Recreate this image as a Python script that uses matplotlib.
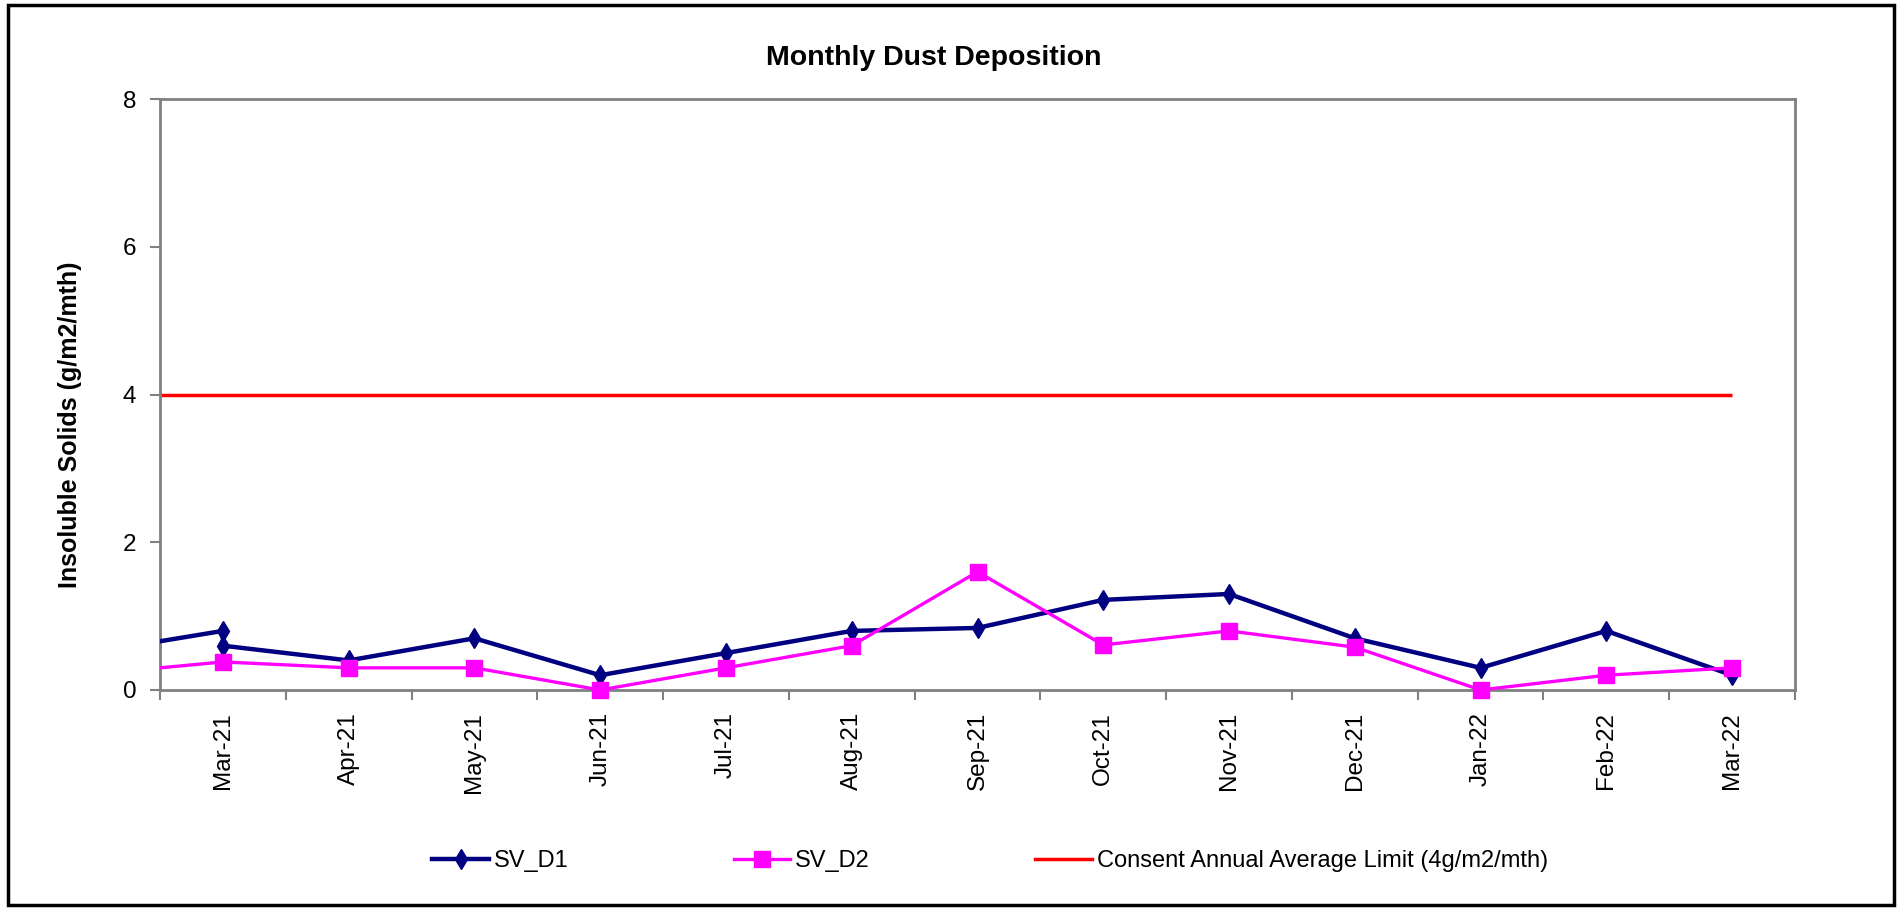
import matplotlib
matplotlib.use("Agg")
import matplotlib.pyplot as plt
from matplotlib.lines import Line2D
from matplotlib.patches import Rectangle

plt.rcParams['font.family'] = ['Liberation Sans', 'DejaVu Sans']

# ---- data ----
months = ["Mar-21", "Apr-21", "May-21", "Jun-21", "Jul-21", "Aug-21", "Sep-21",
          "Oct-21", "Nov-21", "Dec-21", "Jan-22", "Feb-22", "Mar-22"]
# sample index (month position; -1 = previous month, clipped at the axis edge)
sv_d1_idx = [-1, 0, 0, 1, 2, 3, 4, 5, 6, 7, 8, 9, 10, 11, 12]
sv_d1_val = [0.52, 0.80, 0.60, 0.40, 0.70, 0.20, 0.50, 0.80, 0.84, 1.22, 1.30, 0.70, 0.30, 0.80, 0.20]
sv_d2_idx = [-1, 0, 1, 2, 3, 4, 5, 6, 7, 8, 9, 10, 11, 12]
sv_d2_val = [0.22, 0.38, 0.30, 0.30, 0.00, 0.30, 0.60, 1.60, 0.61, 0.80, 0.58, 0.00, 0.20, 0.30]
limit_value = 4.0
yticks = [0, 2, 4, 6, 8]

fig = plt.figure(figsize=(19.02, 9.08), dpi=100)
ax = fig.add_axes([160/1902, 1-690/908, (1795-160)/1902, (690-99)/908])

navy = "#000080"
mag = "#FF00FF"
red = "#FF0000"
grey = "#808080"

# lines (clipped to axes)
ax.plot(sv_d1_idx, sv_d1_val, color=navy, lw=3.2, zorder=3)
ax.plot(sv_d2_idx, sv_d2_val, color=mag, lw=2.4, zorder=4)
# markers for points within the axis range
m1 = [(i, v) for i, v in zip(sv_d1_idx, sv_d1_val) if i >= 0]
m2 = [(i, v) for i, v in zip(sv_d2_idx, sv_d2_val) if i >= 0]
ax.plot([p[0] for p in m1], [p[1] for p in m1], ls='none', marker='d', ms=10.5,
        color=navy, clip_on=False, zorder=5)
ax.plot([p[0] for p in m2], [p[1] for p in m2], ls='none', marker='s', ms=11,
        color=mag, clip_on=False, zorder=6)
ax.hlines(limit_value, -0.5, len(months) - 1, color=red, lw=2.5, zorder=2)

ax.set_xlim(-0.5, len(months) - 0.5)
ax.set_ylim(0, 8)
ax.set_yticks(yticks)
ax.set_yticklabels([str(t) for t in yticks])

# ticks at category boundaries, labels at centres
ax.set_xticks([i - 0.5 for i in range(len(months) + 1)])
ax.set_xticklabels([])
ax.set_xticks(range(len(months)), minor=True)
ax.set_xticklabels(months, minor=True, rotation=90, fontsize=17.5, va='top', ha='center')
ax.tick_params(axis='x', which='minor', length=0, pad=16)
ax.tick_params(axis='x', which='major', direction='out', length=7, width=1.5, color=grey)
ax.tick_params(axis='y', direction='out', length=7, width=1.5, color=grey, labelsize=17.5, pad=10)

for s in ax.spines.values():
    s.set_color(grey)
    s.set_linewidth(2)

fig.text(934/1902, 1 - 58/908, "Monthly Dust Deposition", fontsize=20.5,
         fontweight='bold', ha='center', va='center')
fig.text(70/1902, 1 - 425/908, "Insoluble Solids (g/m2/mth)", fontsize=18,
         fontweight='bold', rotation=90, ha='center', va='center')

handles = [
    Line2D([], [], color=navy, lw=3.2, marker='d', ms=10.5),
    Line2D([], [], color=mag, lw=2.4, marker='s', ms=11),
    Line2D([], [], color=red, lw=2.5),
]
labels = ["SV_D1", "SV_D2", "Consent Annual Average Limit (4g/m2/mth)"]
fig.legend(handles, labels, loc='center', bbox_to_anchor=(990/1902, 1 - 861/908),
           ncol=3, frameon=False, fontsize=17, handlelength=2.4, handletextpad=0.2,
           columnspacing=7.0)

fig.add_artist(Rectangle((8/1902, 3/908), (1894-8)/1902, (905-5)/908,
                         transform=fig.transFigure, fill=False, edgecolor='black', lw=2.5))

fig.savefig("out.png", dpi=100, facecolor='white')
